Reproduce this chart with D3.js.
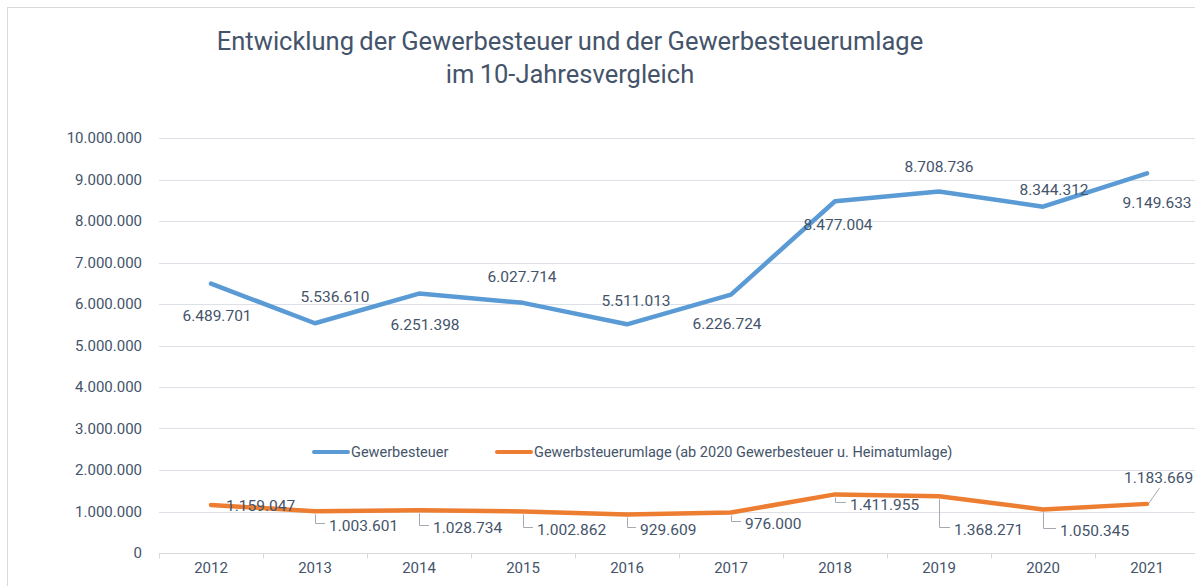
<!DOCTYPE html>
<html lang="de">
  <head>
    <meta charset="UTF-8" />
    <title>Gewerbesteuer</title>
    <style>
      body { margin: 0; background: #fff; }
      svg text { font-family: Roboto, "Open Sans", sans-serif; fill: #44546a; }
      .line-path { fill: none; stroke-width: 4.5; stroke-linejoin: round; stroke-linecap: round; }
      .grid line { stroke: #dde1e7; stroke-width: 1; }
      .leader { fill: none; stroke: #a5aab3; stroke-width: 1; }
    </style>
  </head>
  <body>
    <script src="https://d3js.org/d3.v7.min.js"></script>
    <script>
      // data
      const years = ["2012", "2013", "2014", "2015", "2016", "2017", "2018", "2019", "2020", "2021"];
      const gewerbesteuer = [6489701, 5536610, 6251398, 6027714, 5511013, 6226724, 8477004, 8708736, 8344312, 9149633];
      const umlage = [1159047, 1003601, 1028734, 1002862, 929609, 976000, 1411955, 1368271, 1050345, 1183669];
      const yTicks = [0, 1000000, 2000000, 3000000, 4000000, 5000000, 6000000, 7000000, 8000000, 9000000, 10000000];
      const seriesNames = ["Gewerbesteuer", "Gewerbsteuerumlage (ab 2020 Gewerbesteuer u. Heimatumlage)"];
      const titleLines = ["Entwicklung der Gewerbesteuer und der Gewerbesteuerumlage", "im 10-Jahresvergleich"];

      // label placement (offset from the point), chosen by hand like in the original
      const blueLabelOffsets = [[6, 32], [20, -26], [6, 31], [-1, -26], [9, -23], [-4, 29], [3, 24], [0, -25], [11, -17], [10, 30]];
      const orangeLabelOffsets = [[15, 1], [14, 15], [14, 18], [14, 19], [13, 16], [14, 12], [15, 11], [15, 34], [17, 22], [-23, -26]];

      const de = d3.formatLocale({ decimal: ",", thousands: ".", grouping: [3], currency: ["", " €"] });
      const fmt = de.format(",d");

      const W = 1195, H = 586;
      const svg = d3.select("body").append("svg").attr("width", W).attr("height", H);

      // chart frame
      svg.append("rect")
        .attr("x", 7.5).attr("y", 7.5)
        .attr("width", 1210).attr("height", 610)
        .attr("fill", "none").attr("stroke", "#d9d9d9");

      // title
      svg.append("g").selectAll("text")
        .data(titleLines)
        .join("text")
        .attr("x", 570)
        .attr("y", (d, i) => 50 + i * 32.5)
        .attr("text-anchor", "middle")
        .style("font-size", "25.5px")
        .style("word-spacing", "-1px")
        .text((d) => d);

      const xScale = d3.scaleBand().domain(years).range([159, 1199]).padding(0);
      const yScale = d3.scaleLinear().domain([0, 10000000]).range([553, 138]);
      const cx = (d) => xScale(d) + xScale.bandwidth() / 2;

      // gridlines
      svg.append("g").attr("class", "grid")
        .selectAll("line")
        .data(yTicks.filter((t) => t > 0))
        .join("line")
        .attr("x1", 159).attr("x2", 1199)
        .attr("y1", (d) => Math.round(yScale(d)) + 0.5)
        .attr("y2", (d) => Math.round(yScale(d)) + 0.5);

      // y axis labels
      const yAxis = d3.axisLeft(yScale).tickValues(yTicks).tickFormat(fmt).tickSize(0).tickPadding(0);
      const gy = svg.append("g").attr("transform", "translate(142,0)").call(yAxis);
      gy.select(".domain").remove();
      gy.selectAll("text").style("font-size", "15px").attr("fill", null);

      // x axis
      const xAxis = d3.axisBottom(xScale).tickSize(0).tickPadding(0);
      const gx = svg.append("g").attr("transform", "translate(0,553.5)").call(xAxis);
      gx.select(".domain").attr("stroke", "#d9d9d9").attr("d", "M159,0H1199");
      gx.selectAll("text").style("font-size", "15px").attr("fill", null).attr("dy", "19px");
      gx.append("g").selectAll("line")
        .data(years.concat(["end"]))
        .join("line")
        .attr("x1", (d, i) => Math.round(159 + i * xScale.bandwidth()) + 0.5)
        .attr("x2", (d, i) => Math.round(159 + i * xScale.bandwidth()) + 0.5)
        .attr("y1", 0).attr("y2", 5)
        .attr("stroke", "#d9d9d9");

      const line = d3.line().x((d, i) => cx(years[i])).y((d) => yScale(d));

      svg.append("path").attr("class", "line-path").attr("d", line(umlage)).style("stroke", "#ed7d31");
      svg.append("path").attr("class", "line-path").attr("d", line(gewerbesteuer)).style("stroke", "#5b9bd5");

      // blue labels
      svg.append("g").selectAll("text")
        .data(gewerbesteuer)
        .join("text")
        .attr("x", (d, i) => cx(years[i]) + blueLabelOffsets[i][0])
        .attr("y", (d, i) => yScale(d) + blueLabelOffsets[i][1])
        .attr("text-anchor", "middle")
        .attr("dominant-baseline", "central")
        .style("font-size", "15.5px")
        .text((d) => fmt(d));

      // orange labels with leader lines
      const leaders = svg.append("g");
      const oLabels = svg.append("g");
      umlage.forEach((v, i) => {
        const px = cx(years[i]);
        const py = yScale(v);
        const [dx, dy] = orangeLabelOffsets[i];
        const lx = px + dx;
        const ly = py + dy;
        const t = oLabels.append("text")
          .attr("x", lx).attr("y", ly)
          .attr("dominant-baseline", "central")
          .style("font-size", "15.5px")
          .text(fmt(v));
        if (dx < 0) {
          // label sits above-right, leader goes diagonally up to its bottom
          const w = t.node().getComputedTextLength();
          leaders.append("path").attr("class", "leader")
            .attr("d", `M${px + 2},${py - 1}L${lx + w / 2 + 1},${ly + 10}`);
        } else if (dy > 6) {
          const hy = Math.round(ly - 3) + 0.5;
          leaders.append("path").attr("class", "leader")
            .attr("d", `M${Math.round(px) + 0.5},${py + 3}V${hy}H${lx - 4}`);
        }
      });

      // legend
      const legend = svg.append("g").attr("transform", "translate(0,452)");
      const legendX = [314, 497];
      const legendColors = ["#5b9bd5", "#ed7d31"];
      seriesNames.forEach((name, i) => {
        legend.append("line")
          .attr("x1", legendX[i]).attr("x2", legendX[i] + 34)
          .attr("y1", 0).attr("y2", 0)
          .attr("stroke", legendColors[i]).attr("stroke-width", 4).attr("stroke-linecap", "round");
        legend.append("text")
          .attr("x", legendX[i] + 37).attr("y", 0)
          .attr("dominant-baseline", "central")
          .style("font-size", "14.5px")
          .text(name);
      });
    </script>
  </body>
</html>
